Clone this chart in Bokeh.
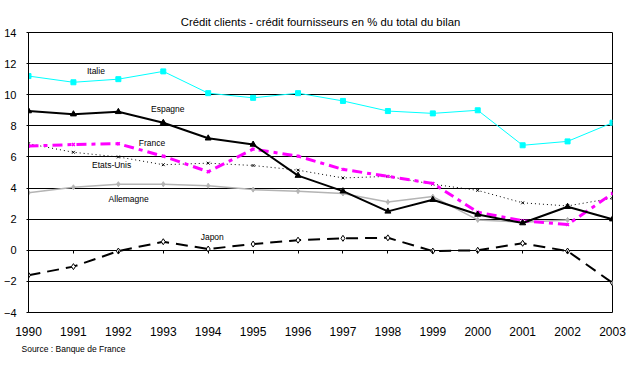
import math
from bokeh.plotting import figure
from bokeh.models import (ColumnDataSource, FixedTicker, LinearAxis, Range1d,
                          Title)
from bokeh.core.properties import value
from bokeh.embed import file_html
from bokeh.resources import INLINE

FONT = "Liberation Sans"

years = list(range(1990, 2004))
italie = [11.2, 10.8, 11.0, 11.5, 10.1, 9.8, 10.1, 9.6, 8.95, 8.8, 9.0, 6.75, 7.0, 8.2]
espagne = [8.95, 8.75, 8.9, 8.2, 7.2, 6.8, 4.8, 3.8, 2.5, 3.25, 2.3, 1.75, 2.8, 2.0]
france = [6.7, 6.8, 6.85, 6.05, 5.05, 6.5, 6.05, 5.2, 4.75, 4.3, 2.45, 1.9, 1.65, 3.65]
etats_unis = [6.85, 6.3, 6.0, 5.5, 5.6, 5.45, 5.15, 4.65, 4.75, 4.25, 3.85, 3.05, 2.85, 3.35]
allemagne = [3.7, 4.05, 4.25, 4.25, 4.15, 3.9, 3.8, 3.65, 3.1, 3.45, 1.95, 1.8, 1.95, math.nan]
japon = [-1.6, -1.05, -0.05, 0.55, 0.08, 0.4, 0.65, 0.77, 0.8, -0.05, 0.0, 0.45, -0.05, -2.1]

y_ticks = [-4, -2, 0, 2, 4, 6, 8, 10, 12, 14]

series_names = ["Italie", "Espagne", "France", "Etats-Unis", "Allemagne", "Japon"]
label_x = [1991.5, 1993.1, 1992.75, 1991.85, 1992.23, 1994.09]
label_y = [11.5, 9.08, 6.89, 5.49, 3.28, 0.84]

title_text = "Crédit clients - crédit fournisseurs en % du total du bilan"
source_text = "Source : Banque de France"

src = ColumnDataSource(dict(year=years, italie=italie, espagne=espagne, france=france,
                            etats_unis=etats_unis, allemagne=allemagne, japon=japon))

p = figure(width=627, height=365, output_backend="svg", toolbar_location=None,
           x_range=Range1d(1990, 2003), y_range=Range1d(-4, 14),
           min_border_left=27, min_border_right=15, min_border_top=32, min_border_bottom=53,
           background_fill_color="white", border_fill_color="white")

p.title.text = title_text
p.title.align = "center"
p.title.text_font = FONT
p.title.text_font_size = "11.3px"
p.title.text_font_style = "normal"
p.title.text_color = "black"

p.outline_line_color = "black"
p.outline_line_width = 1

p.xgrid.visible = False
p.ygrid.ticker = FixedTicker(ticks=y_ticks)
p.ygrid.grid_line_color = "black"
p.ygrid.grid_line_width = 1

# y axis
p.yaxis.ticker = FixedTicker(ticks=y_ticks)
p.yaxis.axis_line_color = "black"
p.yaxis.major_tick_out = 2
p.yaxis.major_tick_in = 0
p.yaxis.minor_tick_line_color = None
p.yaxis.major_label_standoff = 10
p.yaxis.major_label_text_font = FONT
p.yaxis.major_label_text_font_size = "11px"
p.yaxis.major_label_text_color = "black"

# x axis labels at bottom
p.xaxis.ticker = FixedTicker(ticks=years)
p.xaxis.axis_line_color = None
p.xaxis.major_tick_line_color = None
p.xaxis.minor_tick_line_color = None
p.xaxis.major_label_standoff = 8
p.xaxis.major_label_text_font = FONT
p.xaxis.major_label_text_font_size = "12px"
p.xaxis.major_label_text_color = "black"
p.xaxis.axis_label = " "
p.xaxis.axis_label_text_font_size = "1px"
p.xaxis.axis_label_standoff = -6

# category axis crossing at zero: tick marks only
zero_axis = LinearAxis(fixed_location=0, ticker=FixedTicker(ticks=years))
zero_axis.axis_line_color = None
zero_axis.major_tick_out = 3
zero_axis.major_tick_in = 0
zero_axis.major_tick_line_color = "black"
zero_axis.minor_tick_line_color = None
zero_axis.major_label_text_font_size = "0px"
zero_axis.major_label_text_alpha = 0
p.add_layout(zero_axis, "below")

# Allemagne (grey)
p.line("year", "allemagne", source=src, line_color="#B4B4B4", line_width=1.5)
p.scatter("year", "allemagne", source=src, marker="diamond", size=5,
          fill_color="#B4B4B4", line_color="#B4B4B4")

# Italie (cyan)
p.line("year", "italie", source=src, line_color="#00FFFF", line_width=1)
p.scatter("year", "italie", source=src, marker="square", size=5,
          fill_color="#00FFFF", line_color="#00FFFF")

# Etats-Unis (black dotted)
p.line("year", "etats_unis", source=src, line_color="black", line_width=1, line_dash="1 3")
p.scatter("year", "etats_unis", source=src, marker="x", size=4, line_color="black")

# France (magenta dash-dot)
p.line("year", "france", source=src, line_color="#FF00FF", line_width=3, line_dash="10 5 4 5")
p.scatter("year", "france", source=src, marker="x", size=4, line_color="#FF00FF", line_width=1.5)

# Japon (black dashed)
p.line("year", "japon", source=src, line_color="black", line_width=2, line_dash="12 7")
p.scatter("year", "japon", source=src, marker="diamond", size=6,
          fill_color="white", line_color="black")

# Espagne (black solid thick)
p.line("year", "espagne", source=src, line_color="black", line_width=2)
p.scatter("year", "espagne", source=src, marker="triangle", size=6,
          fill_color="black", line_color="black")

# series labels
lab_src = ColumnDataSource(dict(x=label_x, y=label_y, t=series_names))
p.text(x="x", y="y", text="t", source=lab_src, text_font=value(FONT),
       text_font_size="8.5px", text_align="center", text_baseline="middle",
       text_color="black")

src_title = Title(text=source_text, align="left", offset=-7,
                  text_font=FONT, text_font_size="8.5px", text_font_style="normal",
                  text_color="black")
p.add_layout(src_title, "below")

open("out.html", "w").write(file_html(p, INLINE))
